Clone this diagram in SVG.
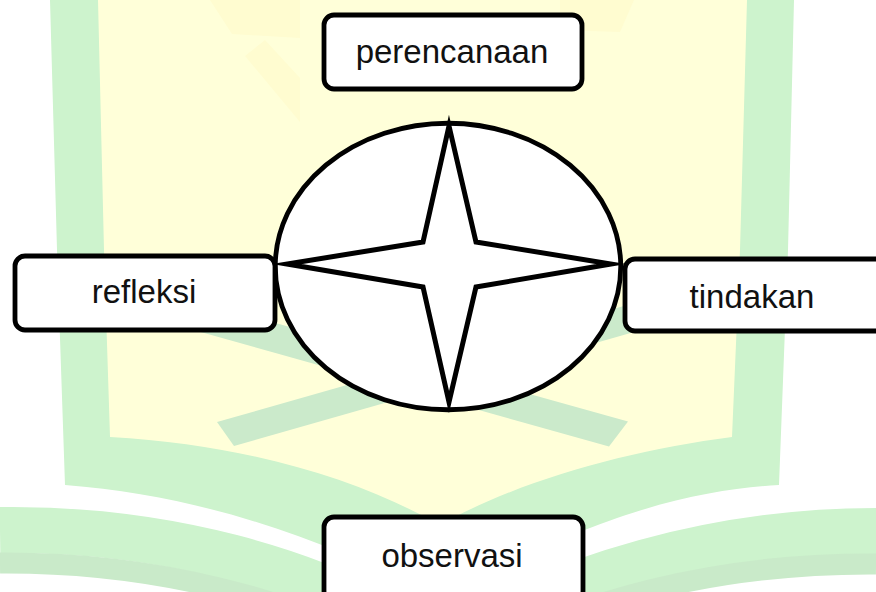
<svg xmlns="http://www.w3.org/2000/svg" width="876" height="592" viewBox="0 0 876 592">
  <style>
    .box { fill: #ffffff; stroke: #000000; stroke-width: 4.8; }
    .lbl { font-family: "Liberation Sans", Arial, sans-serif; font-size: 33px; fill: #111111; text-anchor: middle; }
    .wm-green { fill: #cdf3cd; }
    .wm-yellow { fill: #ffffd9; }
    .wm-bar { fill: #cbeacb; }
    .wm-faint { fill: #fffcd0; }
  </style>
  <rect width="876" height="592" fill="#ffffff"/>
  <g id="watermark">
    <path class="wm-green" d="M50,0 L794,0 L788,250 L779,485 C700,490 600,510 440,600 C330,540 200,495 65,485 L57,250 Z"/>
    <path class="wm-yellow" d="M98,0 L747,0 L740,250 L732,437 C630,450 520,480 440,525 C360,480 250,445 110,437 L104,250 Z"/>
    <path class="wm-faint" d="M210,0 L300,0 L300,38 L232,34 Z"/>
    <path class="wm-faint" d="M245,56 L265,40 L300,78 L300,122 Z"/>
    <path class="wm-faint" d="M634,0 L560,0 L560,30 L620,32 Z"/>
    <path d="M0,530 C150,528 320,565 440,650" fill="none" stroke="#cdf3cd" stroke-width="46"/>
    <path d="M876,531 C720,531 560,575 440,650" fill="none" stroke="#cdf3cd" stroke-width="46"/>
    <path d="M0,563 C150,562 300,598 400,660" fill="none" stroke="#c9eac9" stroke-width="21"/>
    <path d="M876,564 C720,563 570,600 480,660" fill="none" stroke="#c9eac9" stroke-width="21"/>
    <path class="wm-bar" d="M175,294.8 L628,421.6 L609,446.4 L156,319.6 Z"/>
    <path class="wm-bar" d="M700,284.3 L217,422 L234,446 L719,307.8 Z"/>
  </g>
  <g id="center">
    <ellipse cx="448" cy="266.5" rx="172.75" ry="143.25" fill="#ffffff" stroke="#000000" stroke-width="4.8"/>
    <polygon points="449,126 476,242 611,264 476,287 449,402 423,287 287,264 423,242" fill="#ffffff" stroke="#000000" stroke-width="5" stroke-linejoin="miter" stroke-miterlimit="12"/>
  </g>
  <g id="connectors"/>
  <g id="perencanaan">
    <rect class="box" x="324" y="15" width="258" height="74" rx="10"/>
    <text class="lbl" x="452" y="63">perencanaan</text>
  </g>
  <g id="refleksi">
    <rect class="box" x="15" y="256" width="260" height="74" rx="10"/>
    <text class="lbl" x="144" y="303">refleksi</text>
  </g>
  <g id="tindakan">
    <rect class="box" x="625" y="259" width="262" height="72" rx="10"/>
    <text class="lbl" x="752" y="308">tindakan</text>
  </g>
  <g id="observasi">
    <rect class="box" x="324" y="517" width="259" height="84" rx="10"/>
    <text class="lbl" x="452" y="567">observasi</text>
  </g>
</svg>
